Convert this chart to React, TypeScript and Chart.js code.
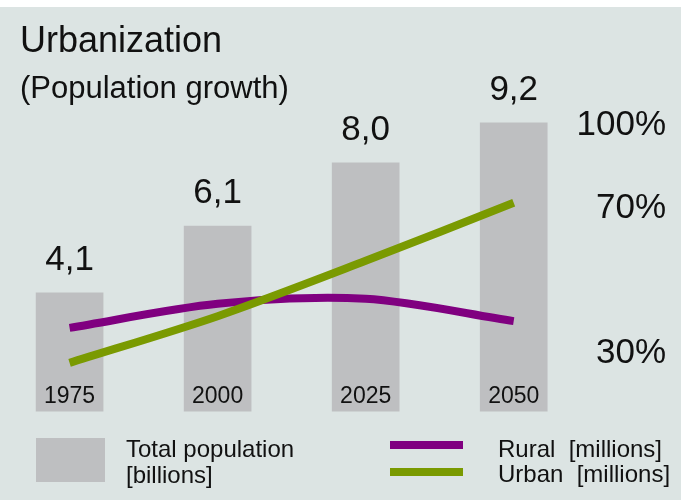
import React, { useEffect, useRef } from 'react';
import { Chart, registerables } from 'chart.js';

Chart.register(...registerables);

// ---- Data ----
const years = ['1975', '2000', '2025', '2050'];
const totalPopulation = [4.1, 6.1, 8.0, 9.2]; // billions
const ruralMillions = [3050, 3770, 3920, 3250];
const urbanMillions = [2000, 3400, 5060, 6800];
const shareLabels = ['100%', '70%', '30%'];
const titleLines = ['Urbanization', '(Population growth)'];
const legendTotal = ['Total population', '[billions]'];
const legendRural = 'Rural  [millions]';
const legendUrban = 'Urban  [millions]';

// ---- Styles ----
const FONT = '"Liberation Sans", Arial, Helvetica, sans-serif';
const PANEL = '#dce4e3';
const BAR = '#bebfc1';
const PURPLE = '#800080';
const GREEN = '#7a9a01';
const TEXT = '#111111';

const fmt = (v: number) => v.toFixed(1).replace('.', ',');

const decorPlugin = {
  id: 'decor',
  afterDatasetsDraw(chart: any) {
    const ctx = chart.ctx as CanvasRenderingContext2D;
    ctx.save();
    ctx.fillStyle = TEXT;
    ctx.textBaseline = 'alphabetic';

    // Title
    ctx.textAlign = 'left';
    ctx.font = `36px ${FONT}`;
    ctx.fillText(titleLines[0], 20, 52);
    ctx.font = `31px ${FONT}`;
    ctx.fillText(titleLines[1], 20, 98);

    // Bar value labels and year labels
    const meta = chart.getDatasetMeta(0);
    meta.data.forEach((el: any, i: number) => {
      ctx.textAlign = 'center';
      ctx.font = `35px ${FONT}`;
      ctx.fillText(fmt(totalPopulation[i]), el.x, el.y - 23);
      ctx.font = `23px ${FONT}`;
      ctx.fillText(years[i], el.x, 403);
    });

    // Share labels on the right
    const shareBaselines = [135, 218, 363];
    ctx.textAlign = 'right';
    ctx.font = `35px ${FONT}`;
    shareLabels.forEach((t, i) => ctx.fillText(t, 666, shareBaselines[i]));

    // Legend
    ctx.fillStyle = BAR;
    ctx.fillRect(36, 438, 69, 44);
    ctx.fillStyle = TEXT;
    ctx.textAlign = 'left';
    ctx.font = `24px ${FONT}`;
    ctx.fillText(legendTotal[0], 126, 457);
    ctx.fillText(legendTotal[1], 126, 483);

    ctx.lineWidth = 8;
    ctx.lineCap = 'butt';
    ctx.strokeStyle = PURPLE;
    ctx.beginPath();
    ctx.moveTo(390, 445);
    ctx.lineTo(463, 445);
    ctx.stroke();
    ctx.strokeStyle = GREEN;
    ctx.beginPath();
    ctx.moveTo(390, 472);
    ctx.lineTo(463, 472);
    ctx.stroke();

    ctx.fillText(legendRural, 498, 457);
    ctx.fillText(legendUrban, 498, 482);
    ctx.restore();
  },
};

export default function App() {
  const ref = useRef<HTMLCanvasElement | null>(null);

  useEffect(() => {
    if (!ref.current) return;
    const yMin = 0.54;
    const yMax = 10.485;
    const chart = new Chart(ref.current, {
      type: 'bar',
      data: {
        datasets: [
          {
            type: 'bar',
            label: 'Total population [billions]',
            data: totalPopulation.map((v, i) => ({ x: i, y: v })),
            backgroundColor: BAR,
            borderWidth: 0,
            barThickness: 67,
            yAxisID: 'y',
            order: 3,
          } as any,
          {
            type: 'line',
            label: 'Rural [millions]',
            data: ruralMillions.map((v, i) => ({ x: i, y: v })),
            borderColor: PURPLE,
            borderWidth: 8,
            borderCapStyle: 'butt',
            tension: 0.3,
            pointRadius: 0,
            fill: false,
            yAxisID: 'y2',
            order: 2,
          } as any,
          {
            type: 'line',
            label: 'Urban [millions]',
            data: urbanMillions.map((v, i) => ({ x: i, y: v })),
            borderColor: GREEN,
            borderWidth: 8,
            borderCapStyle: 'butt',
            tension: 0.3,
            pointRadius: 0,
            fill: false,
            yAxisID: 'y2',
            order: 1,
          } as any,
        ],
      },
      options: {
        animation: false,
        responsive: false,
        devicePixelRatio: 1,
        layout: { padding: { top: 80, bottom: 88.5, left: 0, right: 0 } },
        plugins: {
          legend: { display: false },
          title: { display: false },
          tooltip: { enabled: false },
        },
        scales: {
          x: { type: 'linear', offset: false, min: -0.47, max: 4.13, display: false },
          y: { type: 'linear', min: yMin, max: yMax, display: false },
          y2: { type: 'linear', min: yMin * 1000, max: yMax * 1000, display: false },
        },
      } as any,
      plugins: [decorPlugin],
    });
    return () => chart.destroy();
  }, []);

  return (
    <div
      style={{
        position: 'absolute',
        left: 0,
        top: 0,
        width: 681,
        height: 500,
        background: `linear-gradient(to bottom, #ffffff 0px, #ffffff 7px, ${PANEL} 7px, ${PANEL} 100%)`,
      }}
    >
      <canvas ref={ref} width={681} height={500} style={{ display: 'block' }} />
    </div>
  );
}
